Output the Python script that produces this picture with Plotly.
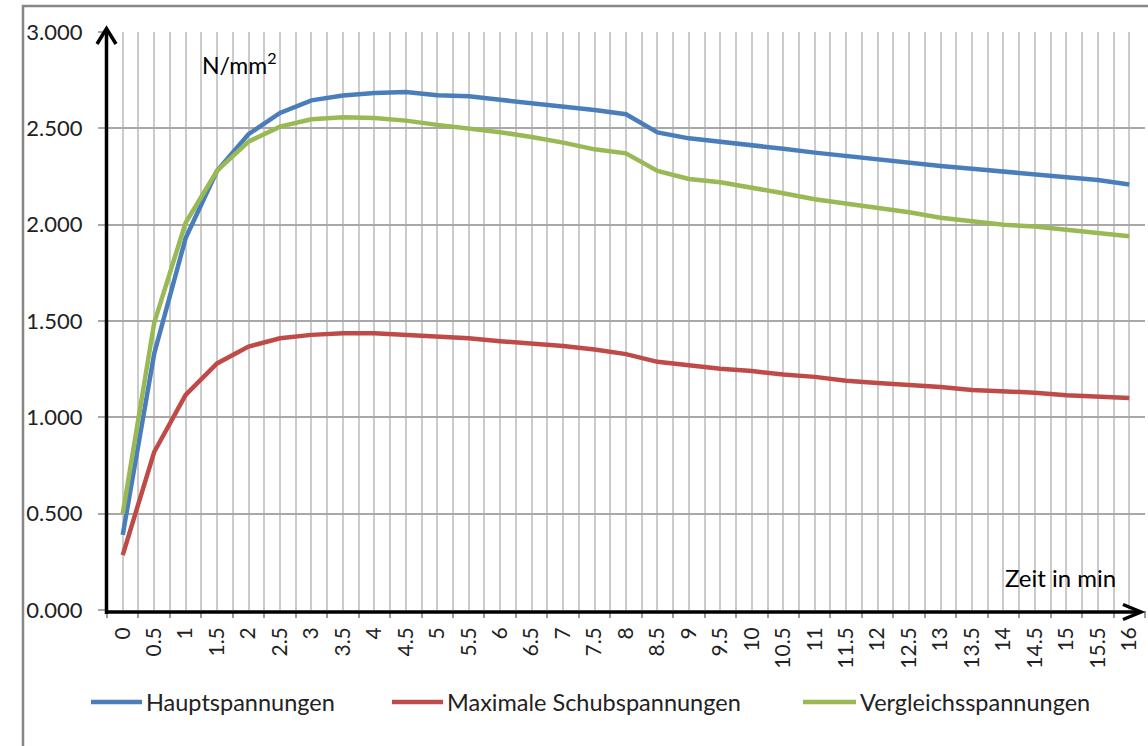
import plotly.graph_objects as go

# Zeitpunkte (min) und Spannungsverläufe in N/mm²
categories = ["0", "0.5", "1", "1.5", "2", "2.5", "3", "3.5", "4", "4.5", "5", "5.5",
              "6", "6.5", "7", "7.5", "8", "8.5", "9", "9.5", "10", "10.5", "11", "11.5",
              "12", "12.5", "13", "13.5", "14", "14.5", "15", "15.5", "16"]

hauptspannungen = [0.39, 1.33, 1.93, 2.28, 2.47, 2.58, 2.645, 2.67, 2.683, 2.688, 2.672,
                   2.667, 2.648, 2.632, 2.616, 2.595, 2.573, 2.479, 2.448, 2.431, 2.412,
                   2.394, 2.374, 2.356, 2.339, 2.322, 2.304, 2.29, 2.276, 2.26, 2.245,
                   2.232, 2.209]

schubspannungen = [0.285, 0.82, 1.116, 1.28, 1.367, 1.41, 1.428, 1.437, 1.437, 1.427,
                   1.422, 1.41, 1.395, 1.383, 1.37, 1.352, 1.328, 1.288, 1.27, 1.252,
                   1.24, 1.222, 1.21, 1.19, 1.178, 1.17, 1.157, 1.142, 1.135, 1.128,
                   1.115, 1.105, 1.1]

vergleichsspannungen = [0.50, 1.49, 2.01, 2.28, 2.431, 2.509, 2.547, 2.557, 2.553, 2.54,
                        2.518, 2.5, 2.48, 2.455, 2.426, 2.391, 2.37, 2.279, 2.237, 2.22,
                        2.194, 2.163, 2.132, 2.111, 2.088, 2.064, 2.036, 2.02, 2.0, 1.99,
                        1.972, 1.955, 1.94]

series_names = ["Hauptspannungen", "Maximale Schubspannungen", "Vergleichsspannungen"]
series_colors = ["#4a7ebb", "#be4b48", "#98b954"]
series_values = [hauptspannungen, schubspannungen, vergleichsspannungen]

x_vals = [float(c) for c in categories]

W, H = 1148, 746
PL, PR, PT, PB = 107, 1145, 32, 610


def fx(x):
    return (x - PL) / (PR - PL)


def fy(y):
    return (PB - y) / (PB - PT)


FONT = "Lato, Calibri, Carlito, sans-serif"

fig = go.Figure()
for name, color, vals in zip(series_names, series_colors, series_values):
    fig.add_trace(go.Scatter(x=x_vals, y=vals, mode="lines", name=name,
                             line=dict(color=color, width=4.5), showlegend=False))

boundaries = [v - 0.25 for v in x_vals] + [x_vals[-1] + 0.25]

fig.update_xaxes(
    range=[x_vals[0] - 0.25, x_vals[-1] + 0.25],
    tickmode="array", tickvals=x_vals, ticktext=categories,
    tickangle=-90, ticks="", ticklabelstandoff=12,
    showgrid=True, gridcolor="#cbcbcb", gridwidth=1.5,
    minor=dict(tickmode="array", tickvals=boundaries, showgrid=True,
               gridcolor="#cbcbcb", gridwidth=1.5, ticks="outside",
               ticklen=7, tickcolor="#9a9a9a", tickwidth=1.5),
    showline=False, zeroline=False,
    tickfont=dict(family=FONT, size=21, color="#222"),
)
fig.update_yaxes(
    range=[0, 3], dtick=0.5, tick0=0, tickformat=".3f",
    showgrid=True, gridcolor="#a8a8a8", gridwidth=1.5,
    ticks="outside", ticklen=8, tickcolor="#a8a8a8", tickwidth=1.5,
    ticklabelstandoff=11,
    showline=False, zeroline=False,
    tickfont=dict(family=FONT, size=22, color="#222"),
)

shapes = []
# Rahmen des Diagrammbereichs
shapes.append(dict(type="rect", xref="paper", yref="paper",
                   x0=fx(23), y0=fy(6), x1=fx(1170), y1=fy(770),
                   line=dict(color="#878787", width=2.5), fillcolor="rgba(0,0,0,0)",
                   layer="below"))
# Achsen mit Pfeilspitzen
shapes.append(dict(type="line", xref="paper", yref="paper",
                   x0=fx(106.5), y0=fy(614), x1=fx(106.5), y1=fy(29),
                   line=dict(color="black", width=3.5)))
shapes.append(dict(type="path", xref="paper", yref="paper",
                   path=f"M {fx(97)},{fy(44)} L {fx(106.5)},{fy(28.5)} L {fx(116)},{fy(44)}",
                   line=dict(color="black", width=3.5)))
shapes.append(dict(type="line", xref="paper", yref="paper",
                   x0=fx(105), y0=fy(612), x1=fx(1141), y1=fy(612),
                   line=dict(color="black", width=3.5)))
shapes.append(dict(type="path", xref="paper", yref="paper",
                   path=f"M {fx(1123)},{fy(604.5)} L {fx(1141)},{fy(612)} L {fx(1123)},{fy(619.5)}",
                   line=dict(color="black", width=3.5)))

annotations = [
    dict(text="N/mm<sup>2</sup>", xref="paper", yref="paper", x=fx(200), y=fy(64),
         xanchor="left", yanchor="middle", showarrow=False,
         font=dict(family=FONT, size=23, color="black")),
    dict(text="Zeit in min", xref="paper", yref="paper", x=fx(1003), y=fy(577),
         xanchor="left", yanchor="middle", showarrow=False,
         font=dict(family=FONT, size=24, color="black")),
]

# Legende unter dem Diagramm
legend_items = [(91, 142), (392, 443), (803, 856)]
for (x0, x1), name, color in zip(legend_items, series_names, series_colors):
    shapes.append(dict(type="line", xref="paper", yref="paper",
                       x0=fx(x0), y0=fy(702), x1=fx(x1), y1=fy(702),
                       line=dict(color=color, width=4.5)))
    annotations.append(dict(text=name, xref="paper", yref="paper", x=fx(x1 + 2), y=fy(702),
                            xanchor="left", yanchor="middle", showarrow=False,
                            font=dict(family=FONT, size=23.5, color="#222")))

fig.update_layout(
    width=W, height=H,
    margin=dict(l=PL, r=W - PR, t=PT, b=H - PB),
    plot_bgcolor="white", paper_bgcolor="white",
    shapes=shapes, annotations=annotations,
    showlegend=False,
)

fig.write_html("out.html")
